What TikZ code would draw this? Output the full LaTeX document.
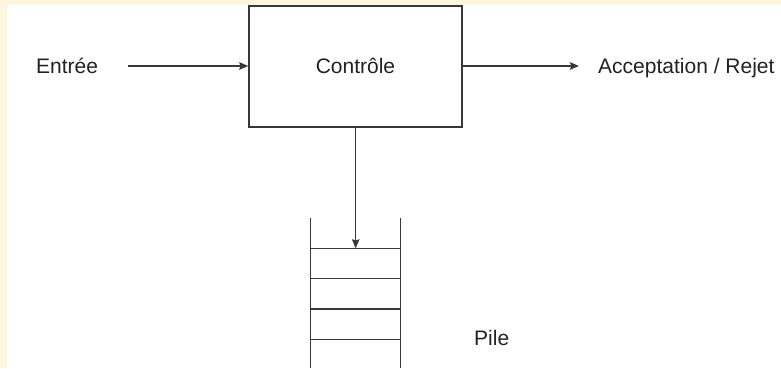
\documentclass[tikz,border=0pt]{standalone}
\usepackage{fontspec}
\setmainfont{Liberation Sans}
\usetikzlibrary{arrows.meta}
\definecolor{cream}{RGB}{253,245,224}
\definecolor{ink}{RGB}{56,56,56}
\definecolor{txt}{RGB}{34,34,34}
\begin{document}
\begin{tikzpicture}[x=1pt,y=-1pt,
  wire/.style={draw=ink,line width=1.4pt},
  arr/.style={wire,-{Stealth[length=9pt,width=7.5pt,inset=1.2pt]}},
  lbl/.style={text=txt,font=\fontsize{21}{24}\selectfont,inner sep=0pt},
  ctrlbox/.style={draw=ink,line width=1.4pt,fill=white,minimum width=213pt,minimum height=121pt,inner sep=0pt}]
  % page: cream strips on top and left, white elsewhere
  \fill[cream] (0,0) rectangle (781,368);
  \fill[white] (7,5) rectangle (781,368);
  \useasboundingbox (0,0) rectangle (781,368);

  % control unit
  \node[ctrlbox] (ctrl) at (355.5,66.5) {};
  \node[lbl,anchor=base] (ctrltxt) at (355.5,73.2) {Contrôle};

  % input and output labels
  \node[lbl,anchor=base west] (in) at (36,73) {Entrée};
  \node[lbl,anchor=base west] (out) at (598,73) {Acceptation / Rejet};
  \coordinate (inStart) at (128,66);
  \coordinate (outEnd) at (579,66);
  \draw[arr] (inStart) -- (ctrl.west |- inStart);
  \draw[arr] (ctrl.east |- outEnd) -- (outEnd);

  % stack
  \coordinate (sTL) at (310.7,218);
  \coordinate (sTR) at (400.7,218);
  \coordinate (sBL) at (310.7,368);
  \coordinate (sBR) at (400.7,368);
  \draw[wire] (sTL) -- (sBL);
  \draw[wire] (sTR) -- (sBR);
  \foreach \yy/\nm in {248.3/r1,278.7/r2,309/r3,339.3/r4}{
    \coordinate (\nm L) at (310.7,\yy);
    \coordinate (\nm R) at (400.7,\yy);
    \draw[wire] (\nm L) -- (\nm R);
  }
  \coordinate (push) at (355.7,248.3);
  \draw[arr] (ctrl.south -| push) -- (push);
  \node[lbl,anchor=base west] (pile) at (474,345.5) {Pile};
\end{tikzpicture}
\end{document}
